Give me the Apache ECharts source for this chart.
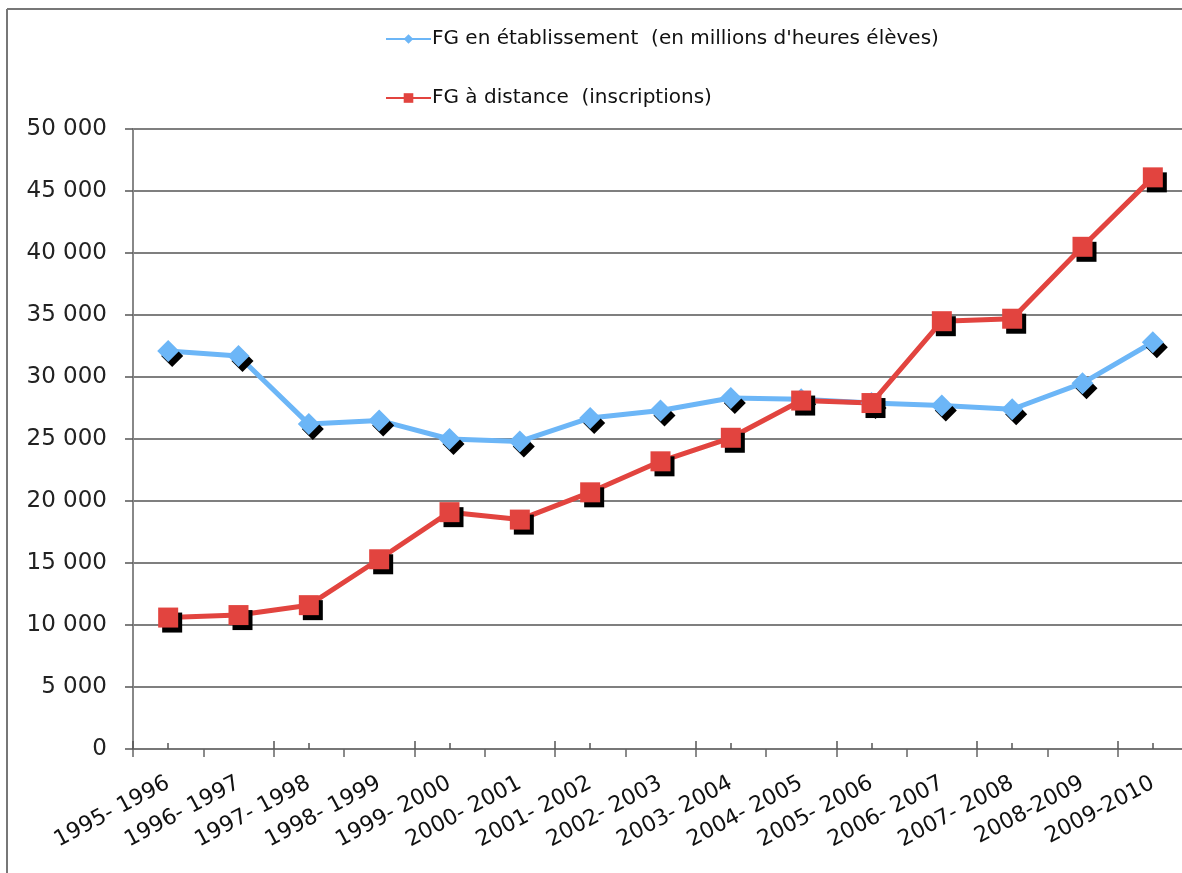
<!DOCTYPE html>
<html>
<head>
<meta charset="utf-8">
<script src="https://cdn.jsdelivr.net/npm/echarts@6/dist/echarts.min.js"></script>
<style>
html,body{margin:0;padding:0;background:#fff;overflow:hidden;width:1182px;height:873px;}
#chart{width:1200px;height:873px;}
</style>
</head>
<body>
<div id="chart"></div>
<script>
const categories = ['1995- 1996','1996- 1997','1997- 1998','1998- 1999','1999- 2000','2000- 2001','2001- 2002','2002- 2003','2003- 2004','2004- 2005','2005- 2006','2006- 2007','2007- 2008','2008-2009','2009-2010'];
const enEtablissement = [32100,31700,26200,26500,25000,24800,26700,27300,28300,28200,27900,27700,27400,29500,32800];
const aDistance = [10600,10800,11600,15300,19100,18500,20700,23200,25100,28100,27900,34500,34700,40500,46100];
const seriesNames = ["FG en établissement  (en millions d'heures élèves)", "FG à distance  (inscriptions)"];

const chart = echarts.init(document.getElementById('chart'), null, {renderer:'canvas'});
const fmt = v => String(v).replace(/\B(?=(\d{3})+(?!\d))/g, ' ');
const hiddenAxis = (align, len) => ({
  type:'category', data:categories, position:'bottom', boundaryGap:true,
  axisLine:{show:false}, axisLabel:{show:false}, splitLine:{show:false},
  axisTick:{show:true, inside:true, alignWithLabel:align, length:len, lineStyle:{color:'#555', width:1.5}}
});
chart.setOption({
  animation:false,
  backgroundColor:'#fff',
  graphic:[
    {type:'line', shape:{x1:7,y1:9,x2:1200,y2:9}, style:{stroke:'#777', lineWidth:2}},
    {type:'line', shape:{x1:7,y1:9,x2:7,y2:873}, style:{stroke:'#777', lineWidth:2}}
  ],
  legend:{
    orient:'vertical', left:380, top:24, itemGap:39,
    itemWidth:45, itemHeight:12,
    textStyle:{fontFamily:'DejaVu Sans', fontSize:20, color:'#111', padding:[0,0,0,-4]},
    data:seriesNames
  },
  grid:{left:133, top:129, width:1055, height:620},
  xAxis:[
    {type:'category', data:categories, boundaryGap:true,
     axisLine:{lineStyle:{color:'#777', width:2}},
     axisTick:{show:true, length:8, lineStyle:{color:'#666', width:1.5}},
     axisLabel:{rotate:28, margin:33, interval:0, fontFamily:'DejaVu Sans', fontSize:22, color:'#111'},
     splitLine:{show:false}},
    hiddenAxis(false, 8),
    hiddenAxis(true, 6)
  ],
  yAxis:{
    type:'value', min:0, max:50000, interval:5000,
    axisLine:{show:true, lineStyle:{color:'#888', width:2}},
    axisTick:{show:true, length:8, lineStyle:{color:'#555', width:1.5}},
    axisLabel:{formatter:fmt, margin:26, fontFamily:'DejaVu Sans', fontSize:23, color:'#222'},
    splitLine:{lineStyle:{color:'#555', width:1.5}}
  },
  series:[
    {name:seriesNames[0], type:'line', data:enEtablissement, symbol:'diamond', symbolSize:22,
     lineStyle:{color:'#6cb6f7', width:5}, itemStyle:{color:'#6cb6f7', shadowColor:'#000', shadowOffsetX:4, shadowOffsetY:5, shadowBlur:0}},
    {name:seriesNames[1], type:'line', data:aDistance, symbol:'rect', symbolSize:20,
     lineStyle:{color:'#e2443f', width:5}, itemStyle:{color:'#e2443f', shadowColor:'#000', shadowOffsetX:4, shadowOffsetY:5, shadowBlur:0}}
  ]
});
</script>
</body>
</html>
